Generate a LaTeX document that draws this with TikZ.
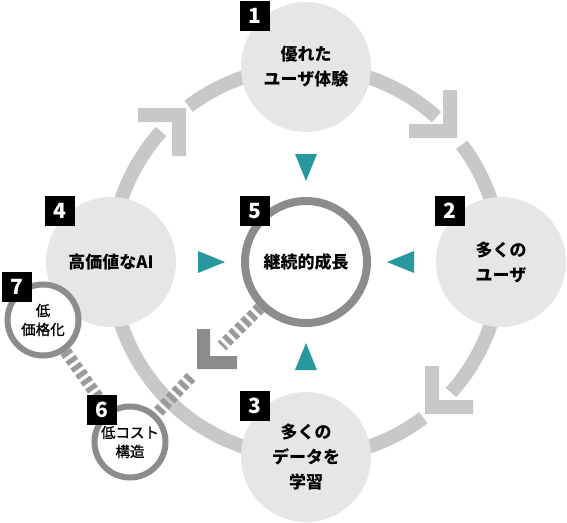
\documentclass[tikz,border=0pt]{standalone}
\usepackage{fontspec}
\setmainfont{Noto Sans CJK JP}
\newfontfamily\jpsemi{Noto Sans CJK JP}[FakeBold=1.2]
\usetikzlibrary{backgrounds}
\definecolor{ringgray}{HTML}{C8C8C8}
\definecolor{discgray}{HTML}{E6E6E6}
\definecolor{linegray}{HTML}{8C8C8C}
\definecolor{stripegray}{HTML}{9A9A9A}
\definecolor{tealmark}{HTML}{27999E}
\tikzset{
  bigdisc/.style={circle,fill=discgray,minimum size=130pt,inner sep=0pt,align=center,
    font=\bfseries\fontsize{17}{25}\selectfont},
  hubring/.style={circle,draw=linegray,line width=8pt,fill=white,minimum size=122pt,inner sep=0pt,
    align=center,font=\bfseries\fontsize{17}{25}\selectfont},
  smallring/.style={circle,draw=linegray,line width=6pt,fill=white,minimum size=71pt,inner sep=0pt,
    align=center,font=\jpsemi\fontsize{14.5}{19}\selectfont},
  numbox/.style={fill=black,text=white,minimum size=30pt,inner sep=0pt,
    font=\bfseries\fontsize{21}{21}\selectfont},
  ringarc/.style={draw=ringgray,line width=14pt},
  stripe/.style={draw=stripegray,line width=12pt,dash pattern=on 5pt off 3.5pt}
}
\begin{document}
\begin{tikzpicture}[x=1pt,y=-1pt]
  \useasboundingbox (0,0) rectangle (567,522);
  \coordinate (ctr) at (306,262); %中心
  \coordinate (cutA) at (222,346); %破線の切れ目
  \coordinate (cutB) at (191,377);

  \node[bigdisc] (c1) at (306,67) {優れた\\ユーザ体験};
  \node[bigdisc] (c2) at (501,262) {多くの\\ユーザ};
  \node[bigdisc] (c3) at (306,457) {多くの\\データを\\学習};
  \node[bigdisc] (c4) at (111,262) {高価値なAI};
  \node[hubring] (c5) at (306,262) {継続的成長};
  \node[smallring] (c6) at (130,442) {低コスト\\構造};
  \node[smallring] (c7) at (43,320) {低\\価格化};

  \node[numbox] (n1) at ([shift={(-51,-51)}]c1.center) {1};
  \node[numbox] (n2) at ([shift={(-51,-51)}]c2.center) {2};
  \node[numbox] (n3) at ([shift={(-51,-51)}]c3.center) {3};
  \node[numbox] (n4) at ([shift={(-51,-51)}]c4.center) {4};
  \node[numbox] (n5) at ([shift={(-51,-51)}]c5.center) {5};
  \node[numbox] (n6) at ([shift={(-28,-32)}]c6.center) {6};
  \node[numbox] (n7) at ([shift={(-26,-33)}]c7.center) {7};

  \begin{scope}[on background layer]
    \draw[ringarc] ([shift={(-127:195)}]ctr) arc[start angle=-127,end angle=-48,radius=195];
    \draw[ringarc] ([shift={(-37:195)}]ctr) arc[start angle=-37,end angle=42,radius=195];
    \draw[ringarc] ([shift={(53:195)}]ctr) arc[start angle=53,end angle=222,radius=195];
    \draw[stripe] (c7) -- (c6);
    \draw[stripe] (c5) -- (cutA);
    \draw[stripe] (cutB) -- (c6);
  \end{scope}

  % 矢印
  \foreach \ax/\ay/\rot in {457/138/0, 425/414/-90, 186/108/90}
    \fill[ringgray,shift={(\ax,\ay)},rotate=\rot] (0,0) -- (0,-48) -- (-14,-48) -- (-14,-14) -- (-48,-14) -- (-48,0) -- cycle;
  \fill[linegray,shift={(197,369)},rotate=-90] (0,0) -- (0,-40) -- (-13,-40) -- (-13,-13) -- (-40,-13) -- (-40,0) -- cycle;

  % 三角
  \foreach \rot in {0,90,180,270}
    \fill[tealmark,shift={(ctr)},rotate=\rot] (-81,0) -- (-108,-11) -- (-108,11) -- cycle;
\end{tikzpicture}
\end{document}
